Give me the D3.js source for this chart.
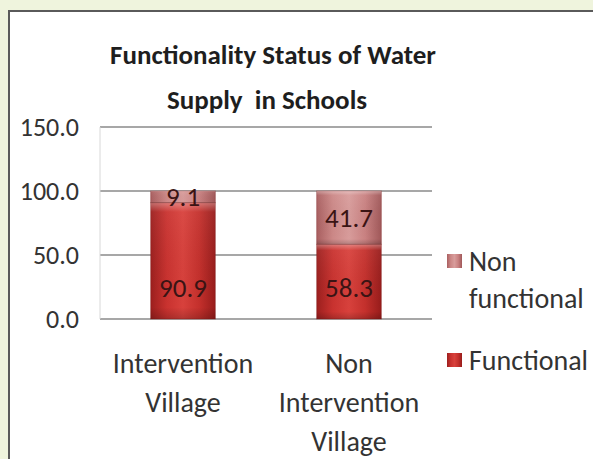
<!DOCTYPE html>
<html>
<head>
<meta charset="utf-8">
<script src="https://cdn.jsdelivr.net/npm/d3@7"></script>
<style>
  body { margin: 0; background: #eff4dd; }
  svg { display: block; }
  text { font-family: Carlito, Calibri, Lato, sans-serif; white-space: pre; }
</style>
</head>
<body>
<svg id="chart"></svg>
<script>
// chart data
const categories = ["Intervention Village", "Non Intervention Village"];
const categoryLines = [["Intervention", "Village"], ["Non", "Intervention", "Village"]];
const seriesNames = ["Functional", "Non functional"];
const functional = [90.9, 58.3];
const nonFunctional = [9.1, 41.7];
const yTicks = [0, 50, 100, 150];
const titleLines = ["Functionality Status of Water", "Supply  in Schools"];

const width = 593, height = 459;
const margin = {top: 127, right: 161, bottom: 140, left: 100};

const svg = d3.select("#chart")
    .attr("width", width)
    .attr("height", height);

// white chart frame (runs off the right and bottom edges)
svg.append("rect")
    .attr("x", 9).attr("y", 11)
    .attr("width", width + 10).attr("height", height + 10)
    .attr("fill", "#fff")
    .attr("stroke", "#5a5a5a")
    .attr("stroke-width", 2);

// gradients for the bevelled bars
const defs = svg.append("defs");
const gradStops = {
  "Functional": ["#9c1f1e", "#c9322f", "#d8413c", "#c4302c", "#971c1b"],
  "Non functional": ["#a95f60", "#cc8887", "#d89c9b", "#c98181", "#a05859"]
};
seriesNames.forEach((name, i) => {
  const g = defs.append("linearGradient")
      .attr("id", "grad" + i)
      .attr("x1", "0%").attr("x2", "100%").attr("y1", "0%").attr("y2", "0%");
  gradStops[name].forEach((c, j, arr) => {
    g.append("stop").attr("offset", (j / (arr.length - 1) * 100) + "%").attr("stop-color", c);
  });
});

// vertical shading on top of each segment (light top edge, darker bottom edge)
const bevel = defs.append("linearGradient")
    .attr("id", "bevel")
    .attr("x1", "0%").attr("x2", "0%").attr("y1", "0%").attr("y2", "100%");
[[0, "#fff", 0.35], [0.08, "#fff", 0.05], [0.9, "#000", 0], [1, "#000", 0.18]].forEach(s => {
  bevel.append("stop").attr("offset", s[0]).attr("stop-color", s[1]).attr("stop-opacity", s[2]);
});

const data = categories.map((c, i) => ({
  category: c,
  "Functional": functional[i],
  "Non functional": nonFunctional[i]
}));

const stacked = d3.stack().keys(seriesNames)(data);

const x = d3.scaleBand()
    .domain(categories)
    .range([margin.left, width - margin.right])
    .paddingInner(0.61)
    .paddingOuter(0.305);

const y = d3.scaleLinear()
    .domain([0, 150])
    .range([319, margin.top]);

// title
svg.append("g").selectAll("text")
  .data(titleLines)
  .join("text")
    .attr("x", (d, i) => i === 0 ? 273 : 267)
    .attr("y", (d, i) => 64 + i * 45)
    .attr("text-anchor", "middle")
    .attr("font-weight", "bold")
    .attr("font-size", 27)
    .attr("fill", "#1e1e1e")
    .text(d => d);

// gridlines
svg.append("g").selectAll("line")
  .data(yTicks)
  .join("line")
    .attr("x1", margin.left)
    .attr("x2", width - margin.right)
    .attr("y1", d => y(d))
    .attr("y2", d => y(d))
    .attr("stroke", "#8a8a8a")
    .attr("stroke-width", 1.5);

svg.append("line")
    .attr("x1", margin.left).attr("x2", margin.left)
    .attr("y1", y(150)).attr("y2", y(0))
    .attr("stroke", "#d8d8d8");

// y tick labels
svg.append("g").selectAll("text")
  .data(yTicks)
  .join("text")
    .attr("x", 79)
    .attr("y", d => y(d))
    .attr("dy", "0.35em")
    .attr("text-anchor", "end")
    .attr("font-size", 26)
    .attr("fill", "#333")
    .text(d => d3.format(".1f")(d));

// bars
const layers = svg.append("g").selectAll("g")
  .data(stacked)
  .join("g")
    .attr("fill", (d, i) => `url(#grad${i})`);

layers.selectAll("rect.seg")
  .data(d => d)
  .join("rect")
    .attr("class", "seg")
    .attr("x", d => x(d.data.category))
    .attr("y", d => y(d[1]))
    .attr("width", x.bandwidth())
    .attr("height", d => y(d[0]) - y(d[1]))
    .attr("stroke", "rgba(120,20,20,0.35)")
    .attr("stroke-width", 1);

layers.selectAll("rect.shade")
  .data(d => d)
  .join("rect")
    .attr("class", "shade")
    .attr("x", d => x(d.data.category))
    .attr("y", d => y(d[1]))
    .attr("width", x.bandwidth())
    .attr("height", d => y(d[0]) - y(d[1]))
    .attr("fill", "url(#bevel)");

// value labels
layers.selectAll("text")
  .data(d => d.map(v => Object.assign(v, {key: d.key})))
  .join("text")
    .attr("x", d => x(d.data.category) + x.bandwidth() / 2)
    .attr("y", d => d.key === "Functional" ? y(0) - 31 : y((d[0] + d[1]) / 2))
    .attr("dy", "0.35em")
    .attr("text-anchor", "middle")
    .attr("font-size", 27)
    .attr("fill", "#3a1414")
    .text(d => d.data[d.key]);

// category labels
const catG = svg.append("g").selectAll("text")
  .data(categories)
  .join("text")
    .attr("x", d => x(d) + x.bandwidth() / 2)
    .attr("y", 363)
    .attr("text-anchor", "middle")
    .attr("font-size", 28)
    .attr("fill", "#333");

catG.selectAll("tspan")
  .data((d, i) => categoryLines[i])
  .join("tspan")
    .attr("x", function() { return this.parentNode.getAttribute("x"); })
    .attr("dy", (d, i) => i === 0 ? "0.35em" : 39)
    .text(d => d);

// legend (reversed order, like the original)
const legendItems = [
  {name: "Non functional", lines: ["Non", "functional"], idx: 1, y: 261},
  {name: "Functional", lines: ["Functional"], idx: 0, y: 360}
];
const leg = svg.append("g").selectAll("g")
  .data(legendItems)
  .join("g")
    .attr("transform", d => `translate(447,${d.y})`);

leg.append("rect")
    .attr("x", 0).attr("y", -7)
    .attr("width", 15).attr("height", 14)
    .attr("fill", d => `url(#grad${d.idx})`);

leg.append("text")
    .attr("x", 22)
    .attr("font-size", 28)
    .attr("fill", "#333")
  .selectAll("tspan")
  .data(d => d.lines)
  .join("tspan")
    .attr("x", 22)
    .attr("dy", (d, i) => i === 0 ? "0.35em" : 37)
    .text(d => d);
</script>
</body>
</html>
